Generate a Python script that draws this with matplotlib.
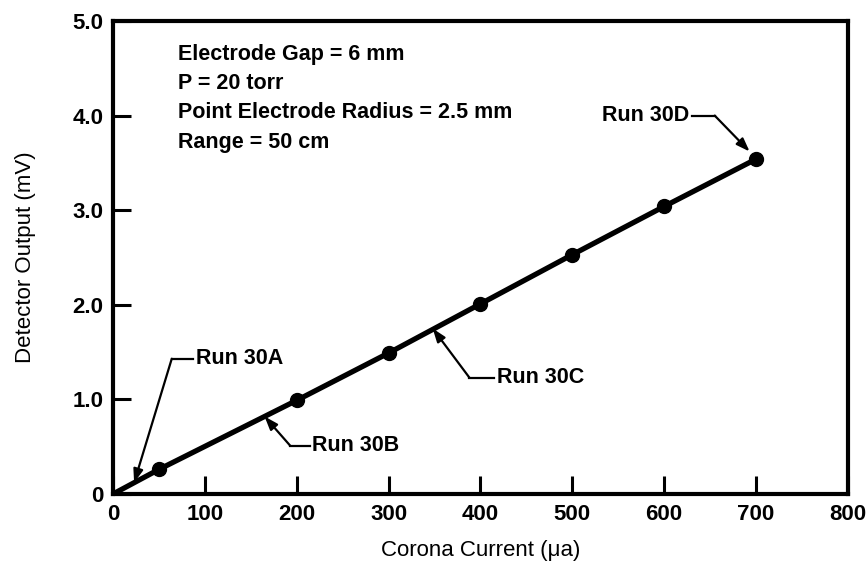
import numpy as np
import matplotlib
matplotlib.use('Agg')
import matplotlib.pyplot as plt

plt.rcParams['font.family'] = ['Liberation Sans', 'DejaVu Sans']

# data
current = np.array([50, 200, 300, 400, 500, 600, 700])        # corona current (ua)
output = np.array([0.26, 0.99, 1.49, 2.01, 2.53, 3.04, 3.54])  # detector output (mV)

x_ticks = [0, 100, 200, 300, 400, 500, 600, 700, 800]
y_ticks = [0, 1, 2, 3, 4, 5]
y_ticklabels = ['0', '1.0', '2.0', '3.0', '4.0', '5.0']

header = ['Electrode Gap = 6 mm', 'P = 20 torr',
          'Point Electrode Radius = 2.5 mm', 'Range = 50 cm']

# run labels: text, tip on line, leader corner, text anchor x, ha
runs = [
    ('Run 30A', (23, 0.12), (64, 1.43), 90, 'left'),
    ('Run 30B', (165, 0.82), (193, 0.51), 217, 'left'),
    ('Run 30C', (348, 1.75), (388, 1.23), 418, 'left'),
    ('Run 30D', (693, 3.62), (655, 4.0), 627, 'right'),
]

fig = plt.figure(figsize=(8.67, 5.67), dpi=100)
ax = fig.add_axes([0.1303, 0.1287, 0.8477, 0.8343])

# line through origin and the points
ax.plot(np.r_[0, current], np.r_[0, output], color='black', lw=3.8,
        solid_capstyle='round')
ax.plot(current, output, 'o', color='black', ms=10)

for label, tip, corner, tx, ha in runs:
    ax.plot([tx + (-3 if ha == 'left' else 3), corner[0]], [corner[1], corner[1]],
            color='black', lw=1.6)
    ax.annotate('', xy=tip, xytext=corner,
                arrowprops=dict(arrowstyle='-|>,head_length=0.5,head_width=0.18',
                                color='black', lw=1.6,
                                mutation_scale=16, shrinkA=0, shrinkB=0))
    ax.text(tx, corner[1], label, ha=ha, va='center', fontsize=15.5,
            fontweight='bold')

for i, line in enumerate(header):
    ax.text(71, 4.65 - 0.31 * i, line, ha='left', va='center', fontsize=15.5,
            fontweight='bold')

ax.set_xlim(0, 800)
ax.set_ylim(0, 5)
ax.set_xticks(x_ticks)
ax.set_xticklabels([str(v) for v in x_ticks])
ax.set_yticks(y_ticks)
ax.set_yticklabels(y_ticklabels)
ax.tick_params(direction='in', length=13, width=2.2, labelsize=16, pad=7)
for lab in ax.get_xticklabels() + ax.get_yticklabels():
    lab.set_fontweight('bold')
for sp in ax.spines.values():
    sp.set_linewidth(3)

ax.set_xlabel('Corona Current (\u03bca)', fontsize=16, labelpad=11)
ax.set_ylabel('Detector Output (mV)', fontsize=16, labelpad=26)

fig.savefig('out.png', dpi=100)
